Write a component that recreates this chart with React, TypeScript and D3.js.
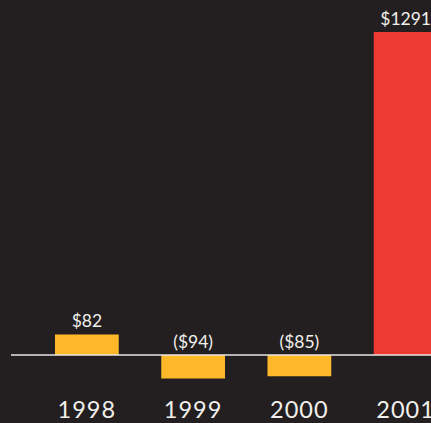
import { useEffect, useRef } from "react";
import * as d3 from "d3";

const years = ["1998", "1999", "2000", "2001"];
const values = [82, -94, -85, 1291];
const valueLabels = ["$82", "($94)", "($85)", "$1291"];
const barColors = ["#fdb92a", "#fdb92a", "#fdb92a", "#ee3b32"];

export default function App() {
  const ref = useRef<SVGSVGElement>(null);

  useEffect(() => {
    if (!ref.current) return;
    const width = 431;
    const height = 423;

    const svg = d3.select(ref.current);
    svg.selectAll("*").remove();

    svg.append("rect").attr("width", width).attr("height", height).attr("fill", "#231f20");

    const x = d3.scaleBand().domain(years).range([12.5, 480]).paddingInner(0.4).paddingOuter(0.4);
    const y = d3.scaleLinear().domain([0, 1291]).range([355, 32]);

    const data = years.map((yr, i) => ({ yr, v: values[i], label: valueLabels[i], color: barColors[i] }));

    svg
      .selectAll(".bar")
      .data(data)
      .enter()
      .append("rect")
      .attr("class", "bar")
      .attr("x", (d) => x(d.yr) || 0)
      .attr("y", (d) => Math.min(y(d.v), y(0)))
      .attr("width", x.bandwidth())
      .attr("height", (d) => Math.abs(y(d.v) - y(0)))
      .attr("fill", (d) => d.color);

    svg
      .append("line")
      .attr("x1", 11)
      .attr("x2", width)
      .attr("y1", y(0))
      .attr("y2", y(0))
      .attr("stroke", "#e8e6e3")
      .attr("stroke-width", 1.5);

    svg
      .selectAll(".val")
      .data(data)
      .enter()
      .append("text")
      .attr("class", "val")
      .attr("x", (d) => (x(d.yr) || 0) + x.bandwidth() / 2)
      .attr("y", (d) => (d.v > 0 ? y(d.v) : y(0)) - 7)
      .attr("text-anchor", "middle")
      .attr("font-family", "Lato, 'Open Sans', sans-serif")
      .attr("font-size", 17.5)
      .attr("fill", "#f2f0ec")
      .text((d) => d.label);

    svg
      .selectAll(".yr")
      .data(data)
      .enter()
      .append("text")
      .attr("class", "yr")
      .attr("x", (d) => (x(d.yr) || 0) + x.bandwidth() / 2)
      .attr("y", 418)
      .attr("text-anchor", "middle")
      .attr("font-family", "Lato, 'Open Sans', sans-serif")
      .attr("font-size", 23.5)
      .attr("letter-spacing", 1)
      .attr("fill", "#f2f0ec")
      .text((d) => d.yr);
  }, []);

  return (
    <svg
      ref={ref}
      width={431}
      height={423}
      style={{ position: "absolute", left: 0, top: 0, display: "block" }}
    />
  );
}
